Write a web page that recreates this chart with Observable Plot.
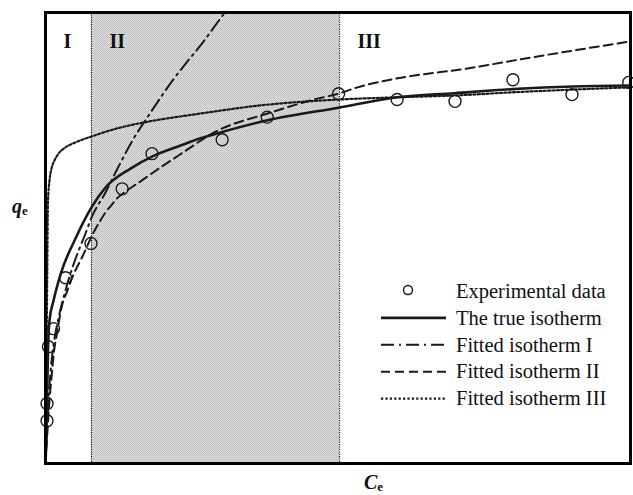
<!DOCTYPE html>
<html>
<head>
<meta charset="utf-8">
<script src="https://cdn.jsdelivr.net/npm/d3@7"></script>
<script src="https://cdn.jsdelivr.net/npm/@observablehq/plot@0.6"></script>
<style>
  body { margin: 0; background: #fff; }
  #chart svg { display: block; }
</style>
</head>
<body>
<svg width="0" height="0" style="position:absolute">
  <defs>
    <pattern id="stipple" width="2" height="2" patternUnits="userSpaceOnUse">
      <rect width="2" height="2" fill="#dadada"></rect>
      <rect width="1" height="1" fill="#c4c4c4"></rect>
      <rect x="1" y="1" width="1" height="1" fill="#c4c4c4"></rect>
    </pattern>
  </defs>
</svg>
<div id="chart"></div>
<script>
// Concentration regions (Ce units) used for the separate fits
const regionNames = ["I", "II", "III"];
const regionStart = [0, 7.86, 50.26];
const regionBounds = [7.86, 50.26];

// Experimental equilibrium data
const expCe = [0.26, 0.26, 0.51, 1.37, 3.42, 7.78, 13.1, 18.2, 30.2, 37.9, 50.1, 60.1, 70.0, 79.9, 90.0, 99.7];
const expQe = [9.5, 13.3, 25.9, 29.9, 41.2, 48.8, 60.9, 68.7, 71.8, 76.8, 82.0, 80.7, 80.3, 85.1, 81.8, 84.5];

// The true isotherm
const trueCe = [0, 0.17, 0.26, 0.43, 0.68, 1.37, 2.56, 5.13, 7.86, 10.26, 14.53, 18.29, 23.08, 26.5, 29.91, 37.95, 50.09, 60.17, 69.91, 79.83, 90.09, 100];
const trueQe = [0, 7.3, 14.0, 25.1, 31.7, 36.1, 41.9, 49.9, 56.8, 61.2, 65.4, 68.1, 70.5, 72.1, 73.4, 76.1, 78.9, 81.2, 82.1, 83.0, 83.6, 83.8];

// Isotherm fitted on region I
const fitICe = [0, 0.26, 0.51, 0.85, 1.37, 2.22, 3.42, 4.62, 5.81, 6.84, 7.86, 10.26, 12.31, 14.87, 17.95, 21.71, 24.10, 26.50, 30.43, 31.62];
const fitIQe = [0, 7.3, 14.0, 20.2, 26.2, 32.2, 38.4, 43.5, 47.7, 51.0, 54.5, 60.1, 65.4, 71.6, 77.8, 84.9, 88.9, 92.7, 99.6, 101.6];

// Isotherm fitted on region II
const fitIICe = [0, 0.34, 0.68, 1.03, 1.37, 2.05, 2.74, 3.76, 4.79, 6.32, 8.21, 9.40, 10.26, 11.28, 12.31, 13.68, 15.73, 20.17, 22.74, 29.40, 37.95, 46.50, 50.09, 53.33, 60.17, 72.14, 82.91, 100];
const fitIIQe = [0, 7.3, 14.0, 19.1, 23.9, 29.5, 34.6, 38.4, 41.9, 45.9, 51.2, 53.9, 55.7, 57.3, 58.9, 60.3, 62.1, 66.1, 68.3, 73.8, 77.6, 80.9, 82.0, 83.4, 85.4, 87.6, 90.0, 93.6];

// Isotherm fitted on region III
const fitIIICe = [0, 0.26, 0.43, 0.68, 1.03, 1.54, 2.22, 3.42, 5.13, 7.86, 12.82, 16.75, 26.50, 36.75, 50.09, 60.17, 69.91, 79.83, 90.09, 100];
const fitIIIQe = [0, 36.1, 58.3, 62.7, 65.4, 67.2, 68.7, 70.1, 71.2, 72.5, 74.5, 75.6, 77.6, 79.4, 80.7, 81.2, 81.6, 82.3, 82.9, 83.4];

const legendLabels = ["Experimental data", "The true isotherm", "Fitted isotherm I", "Fitted isotherm II", "Fitted isotherm III"];

const rows = (xs, ys) => xs.map((x, i) => ({Ce: x, qe: ys[i]}));

const ink = "#1a1a1a";
const lineStyles = [
  null,
  {strokeWidth: 2.6, dash: "none"},
  {strokeWidth: 2, dash: "13,5,2,5"},
  {strokeWidth: 2, dash: "9,5"},
  {strokeWidth: 2.2, dash: "2.2,2.2"}
];

const chart = Plot.plot({
  width: 633,
  height: 495,
  marginLeft: 45,
  marginRight: 3,
  marginTop: 12,
  marginBottom: 32,
  x: {domain: [0, 100], axis: null},
  y: {domain: [0, 100], axis: null},
  style: {background: "white", fontFamily: "'Liberation Serif', 'Times New Roman', serif"},
  marks: [
    Plot.rect([regionBounds], {x1: d => d[0], x2: d => d[1], fill: "url(#stipple)"}),
    Plot.ruleX(regionBounds, {stroke: "#111", strokeWidth: 1.2, strokeDasharray: "1.2,1.2"}),
    Plot.line(rows(fitIIICe, fitIIIQe), {x: "Ce", y: "qe", curve: "monotone-x", stroke: ink, strokeWidth: lineStyles[4].strokeWidth, strokeDasharray: lineStyles[4].dash}),
    Plot.line(rows(fitIICe, fitIIQe), {x: "Ce", y: "qe", curve: "monotone-x", stroke: ink, strokeWidth: lineStyles[3].strokeWidth, strokeDasharray: lineStyles[3].dash}),
    Plot.line(rows(fitICe, fitIQe), {x: "Ce", y: "qe", curve: "monotone-x", stroke: ink, strokeWidth: lineStyles[2].strokeWidth, strokeDasharray: lineStyles[2].dash, clip: true}),
    Plot.line(rows(trueCe, trueQe), {x: "Ce", y: "qe", curve: "monotone-x", stroke: ink, strokeWidth: lineStyles[1].strokeWidth}),
    Plot.dot(rows(expCe, expQe), {x: "Ce", y: "qe", r: 6, stroke: ink, strokeWidth: 1.4, fill: "none"}),
    Plot.frame({stroke: "#000", strokeWidth: 3}),
    Plot.text(regionNames, {
      x: (d, i) => regionStart[i], frameAnchor: "top", dx: 18, dy: 21,
      textAnchor: "start", fontWeight: "bold", fontSize: 20, fill: "#111"
    })
  ]
});

document.getElementById("chart").append(chart);

const svg = d3.select(chart);
const serif = "'Liberation Serif', 'Times New Roman', serif";

// Axis titles with subscripts
const qLabel = svg.append("text").attr("x", 12).attr("y", 213).attr("text-anchor", "start")
  .attr("font-family", serif).attr("font-weight", "bold").attr("font-size", 20).attr("fill", "#111");
qLabel.append("tspan").attr("font-style", "italic").text("q");
qLabel.append("tspan").attr("font-size", 13).attr("dy", 2).text("e");

const cLabel = svg.append("text").attr("x", 364).attr("y", 489).attr("text-anchor", "start")
  .attr("font-family", serif).attr("font-weight", "bold").attr("font-size", 20).attr("fill", "#111");
cLabel.append("tspan").attr("font-style", "italic").text("C");
cLabel.append("tspan").attr("font-size", 13).attr("dy", 2).text("e");

// Legend
const legend = svg.append("g").attr("font-family", serif).attr("font-size", 20.5)
  .attr("fill", "#111").attr("text-anchor", "start");
legendLabels.forEach((label, i) => {
  const y = 291 + i * 26.9;
  const st = lineStyles[i];
  if (st === null) {
    legend.append("circle").attr("cx", 408).attr("cy", y - 1).attr("r", 4.5)
      .attr("fill", "none").attr("stroke", ink).attr("stroke-width", 1.5);
  } else {
    legend.append("line").attr("x1", 381).attr("x2", 446).attr("y1", y).attr("y2", y)
      .attr("stroke", ink).attr("stroke-width", st.strokeWidth)
      .attr("stroke-dasharray", st.dash);
  }
  legend.append("text").attr("x", 456).attr("y", y).attr("dy", "0.33em").text(label);
});
</script>
</body>
</html>
